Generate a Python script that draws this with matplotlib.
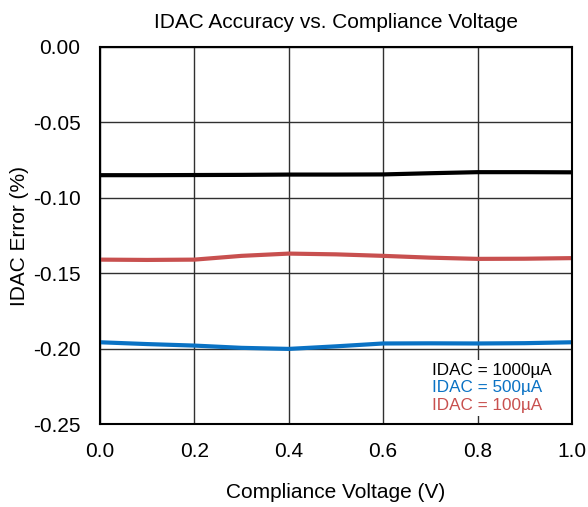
import matplotlib
matplotlib.use("Agg")
import matplotlib.pyplot as plt

plt.rcParams['font.family'] = ['Liberation Sans', 'DejaVu Sans']

voltage = [0.0, 0.1, 0.2, 0.3, 0.4, 0.5, 0.6, 0.7, 0.8, 0.9, 1.0]
err_1000uA = [-0.0850, -0.0850, -0.0849, -0.0848, -0.0846, -0.0846, -0.0845, -0.0837, -0.0830, -0.0830, -0.0831]
err_500uA = [-0.1958, -0.1970, -0.1980, -0.1995, -0.2002, -0.1985, -0.1966, -0.1965, -0.1966, -0.1964, -0.1958]
err_100uA = [-0.1410, -0.1412, -0.1410, -0.1385, -0.1370, -0.1375, -0.1385, -0.1397, -0.1405, -0.1404, -0.1400]

labels = ['IDAC = 1000µA', 'IDAC = 500µA', 'IDAC = 100µA']
colors = ['#000000', '#0a72c4', '#c8504f']

x_ticks = [0.0, 0.2, 0.4, 0.6, 0.8, 1.0]
y_ticks = [0.00, -0.05, -0.10, -0.15, -0.20, -0.25]

fig = plt.figure(figsize=(5.88, 5.07), dpi=100)
ax = fig.add_axes([0.170, 0.1637, 0.8027, 0.7436])

lines = []
for ys, c, lab in zip([err_1000uA, err_500uA, err_100uA], colors, labels):
    ln, = ax.plot(voltage, ys, color=c, lw=3, label=lab, solid_capstyle='butt')
    lines.append(ln)

ax.set_xlim(0, 1.0)
ax.set_ylim(-0.25, 0.0)
ax.set_xticks(x_ticks)
ax.set_xticklabels([f"{v:.1f}" for v in x_ticks])
ax.set_yticks(y_ticks)
ax.set_yticklabels([f"{v:.2f}" for v in y_ticks])
ax.tick_params(axis='x', length=0, labelsize=15, pad=13)
ax.tick_params(axis='y', length=0, labelsize=15, pad=14)
ax.grid(True, color='#303030', lw=1)
ax.set_axisbelow(True)
for s in ax.spines.values():
    s.set_linewidth(1.5)
    s.set_color('black')

ax.set_title('IDAC Accuracy vs. Compliance Voltage', fontsize=15, pad=13.5)
ax.set_xlabel('Compliance Voltage (V)', fontsize=15, labelpad=16)
ax.set_ylabel('IDAC Error (%)', fontsize=15, labelpad=3)

leg = ax.legend(handles=lines, loc='lower left', handlelength=0, handletextpad=0,
                frameon=True, fancybox=False, fontsize=12.3, labelspacing=0.15,
                borderpad=0.2, borderaxespad=0, bbox_to_anchor=(0.696, 0.02))
leg.get_frame().set_edgecolor('none')
leg.get_frame().set_facecolor('white')
leg.get_frame().set_alpha(1)
for h in leg.legend_handles:
    h.set_visible(False)
for t, c in zip(leg.get_texts(), colors):
    t.set_color(c)

fig.savefig('out.png', dpi=100)
